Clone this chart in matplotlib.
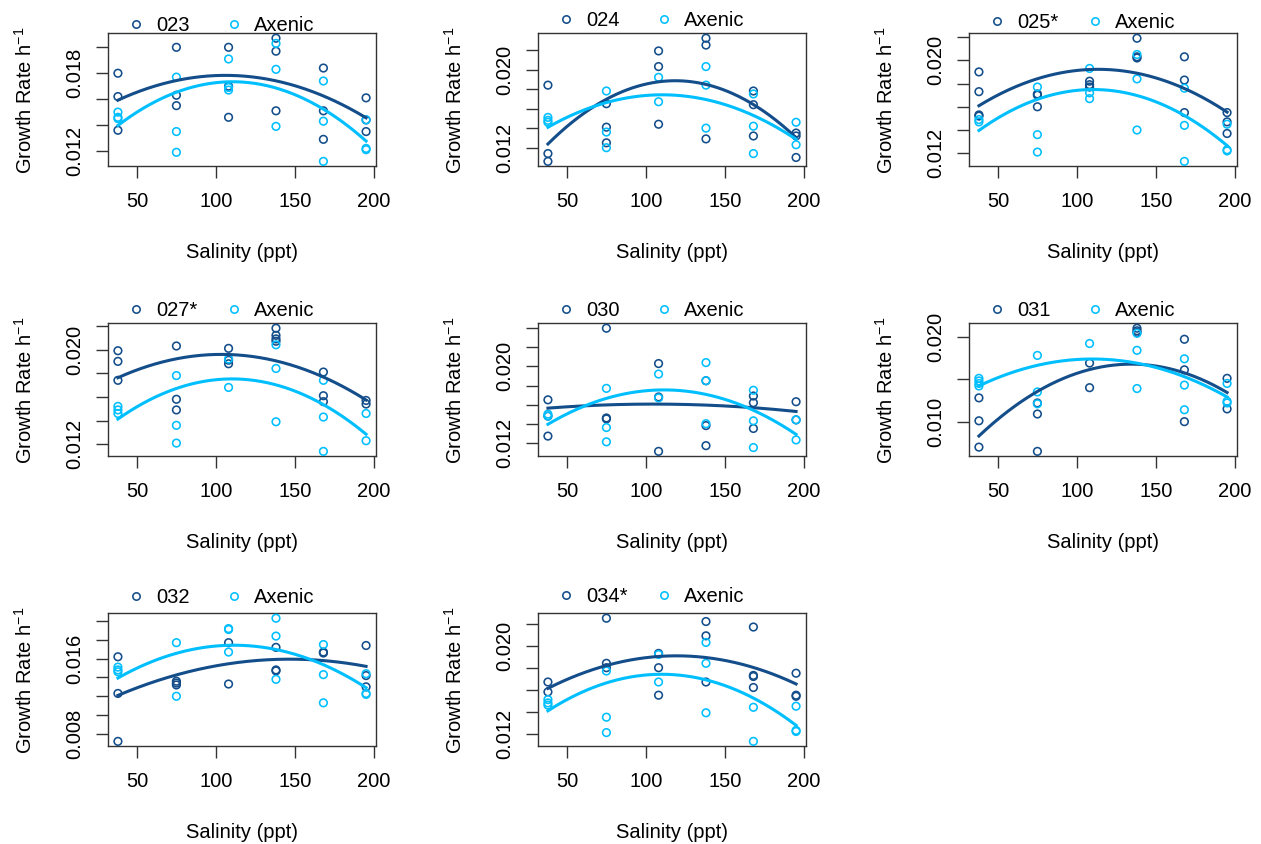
import numpy as np
import matplotlib
matplotlib.use("Agg")
import matplotlib.pyplot as plt
from matplotlib.lines import Line2D

plt.rcParams['font.family'] = ['Liberation Sans', 'DejaVu Sans']
plt.rcParams['font.size'] = 14.5
plt.rcParams['mathtext.default'] = 'regular'

# ---------------- data ----------------
salinity = [38, 75, 108, 138, 168, 195]
strain_labels = ['023', '024', '025*', '027*', '030', '031', '032', '034*']
axenic_label = 'Axenic'

# growth rates per salinity level (replicates)
strain_023 = [[0.0180, 0.0162, 0.0136], [0.0200, 0.0163, 0.0155], [0.0200, 0.0170, 0.0146],
              [0.0207, 0.0197, 0.0151], [0.0184, 0.0151, 0.0129], [0.0161, 0.0144, 0.0135]]
axenic_023 = [[0.0150, 0.0146, 0.0145], [0.0177, 0.0135, 0.0119], [0.0191, 0.0167, 0.0169],
              [0.0203, 0.0183, 0.0139], [0.0174, 0.0143, 0.0112], [0.0144, 0.0122, 0.0121]]
strain_024 = [[0.0184, 0.0114, 0.0106], [0.0165, 0.0141, 0.0125], [0.0219, 0.0203, 0.0144],
              [0.0232, 0.0225, 0.0129], [0.0178, 0.0164, 0.0132], [0.0135, 0.0132, 0.0110]]
axenic_024 = [[0.0151, 0.0148, 0.0146], [0.0178, 0.0136, 0.0120], [0.0192, 0.0167],
              [0.0203, 0.0184, 0.0140], [0.0175, 0.0142, 0.0114], [0.0146, 0.0123]]
strain_025 = [[0.0190, 0.0173, 0.0153, 0.0152], [0.0171, 0.0170, 0.0160], [0.0182, 0.0179, 0.0177],
              [0.0219, 0.0203, 0.0202], [0.0203, 0.0183, 0.0155], [0.0155, 0.0147, 0.0137]]
axenic_025 = [[0.0149, 0.0147], [0.0177, 0.0136, 0.0121], [0.0193, 0.0172, 0.0167],
              [0.0205, 0.0184, 0.0140], [0.0176, 0.0144, 0.0113], [0.0145, 0.0123, 0.0122]]
strain_027 = [[0.0199, 0.0190, 0.0174], [0.0203, 0.0158, 0.0149], [0.0201, 0.0191, 0.0188],
              [0.0218, 0.0212, 0.0209, 0.0207], [0.0181, 0.0161, 0.0156], [0.0157, 0.0154]]
axenic_027 = [[0.0152, 0.0149, 0.0146], [0.0178, 0.0136, 0.0121], [0.0192, 0.0168],
              [0.0204, 0.0184, 0.0139], [0.0174, 0.0143, 0.0114], [0.0146, 0.0123]]
strain_030 = [[0.0165, 0.0148, 0.0127], [0.0240, 0.0146, 0.0145], [0.0203, 0.0168, 0.0111],
              [0.0185, 0.0138, 0.0117], [0.0169, 0.0162, 0.0135], [0.0163, 0.0144]]
axenic_030 = [[0.0150, 0.0148], [0.0177, 0.0136, 0.0121], [0.0192, 0.0167],
              [0.0204, 0.0185, 0.0140], [0.0175, 0.0143, 0.0115], [0.0144, 0.0123]]
strain_031 = [[0.0128, 0.0101, 0.0070], [0.0122, 0.0109, 0.0065], [0.0169, 0.0140],
              [0.0210, 0.0207, 0.0205], [0.0197, 0.0161, 0.0100], [0.0151, 0.0115]]
axenic_031 = [[0.0151, 0.0148, 0.0145, 0.0142], [0.0178, 0.0135, 0.0121], [0.0192],
              [0.0204, 0.0184, 0.0139], [0.0174, 0.0143, 0.0114], [0.0145, 0.0124, 0.0122]]
strain_032 = [[0.0162, 0.0123, 0.0072], [0.0136, 0.0134, 0.0132], [0.0177, 0.0133],
              [0.0172, 0.0148, 0.0147], [0.0167, 0.0166], [0.0174, 0.0142, 0.0130]]
axenic_032 = [[0.0151, 0.0148, 0.0146], [0.0177, 0.0120], [0.0192, 0.0191, 0.0167],
              [0.0203, 0.0184, 0.0138], [0.0175, 0.0143, 0.0113], [0.0144, 0.0123, 0.0122]]
strain_034 = [[0.0167, 0.0158], [0.0225, 0.0184, 0.0180], [0.0193, 0.0180, 0.0155],
              [0.0222, 0.0209, 0.0167], [0.0217, 0.0173, 0.0172, 0.0162], [0.0175, 0.0155, 0.0154]]
axenic_034 = [[0.0151, 0.0148, 0.0146], [0.0177, 0.0135, 0.0121], [0.0192, 0.0167],
              [0.0203, 0.0184, 0.0139], [0.0144, 0.0113], [0.0145, 0.0123, 0.0122]]

# quadratic fit curves, read at a few salinities
fitx_strain_023, fity_strain_023 = [38, 112, 195], [0.01592, 0.01782, 0.01456]
fitx_axenic_023, fity_axenic_023 = [38, 115, 195], [0.01397, 0.01733, 0.01277]
fitx_strain_024, fity_strain_024 = [38, 120, 195], [0.01238, 0.01885, 0.01303]
fitx_axenic_024, fity_axenic_024 = [38, 112, 195], [0.01409, 0.01741, 0.01286]
fitx_strain_025, fity_strain_025 = [38, 120, 195], [0.01609, 0.01920, 0.01554]
fitx_axenic_025, fity_axenic_025 = [38, 115, 195], [0.01396, 0.01747, 0.01266]
fitx_strain_027, fity_strain_027 = [38, 110, 195], [0.01762, 0.01957, 0.01574]
fitx_axenic_027, fity_axenic_027 = [38, 118, 195], [0.01413, 0.01748, 0.01285]
fitx_strain_030, fity_strain_030 = [38, 110, 195], [0.01563, 0.01605, 0.01528]
fitx_axenic_030, fity_axenic_030 = [38, 115, 195], [0.01394, 0.01753, 0.01288]
fitx_strain_031, fity_strain_031 = [38, 135, 195], [0.00831, 0.01677, 0.01343]
fitx_axenic_031, fity_axenic_031 = [38, 115, 195], [0.01421, 0.01736, 0.01291]
fitx_strain_032, fity_strain_032 = [38, 140, 195], [0.01209, 0.01593, 0.01518]
fitx_axenic_032, fity_axenic_032 = [38, 115, 195], [0.01394, 0.01742, 0.01291]
fitx_strain_034, fity_strain_034 = [38, 120, 195], [0.01612, 0.01908, 0.01652]
fitx_axenic_034, fity_axenic_034 = [38, 112, 195], [0.01408, 0.01740, 0.01276]

# y tick values and which of them carry a label
yticks_023 = [0.012, 0.014, 0.016, 0.018, 0.020]
ylabels_023 = ['0.012', '', '', '0.018', '']
yticks_024 = [0.012, 0.014, 0.016, 0.018, 0.020, 0.022]
ylabels_024 = ['0.012', '', '', '', '0.020', '']
yticks_030 = [0.012, 0.014, 0.016, 0.018, 0.020, 0.022, 0.024]
ylabels_030 = ['0.012', '', '', '', '0.020', '', '']
yticks_031 = [0.010, 0.015, 0.020]
ylabels_031 = ['0.010', '', '0.020']
yticks_032 = [0.008, 0.010, 0.012, 0.014, 0.016, 0.018, 0.020]
ylabels_032 = ['0.008', '', '', '', '0.016', '', '']
xticks = [50, 100, 150, 200]
xlabels = ['50', '100', '150', '200']

# ---------------- styling / layout ----------------
DARK = '#134d8a'
LIGHT = '#00bfff'
BOX = '#333333'
W, H = 1261, 844
col_left = [108, 538, 969]
row_top = [33.3, 323.3, 613.3]
box_w, box_h = 268, 133
legend_raise_px = [8, 13, 11, 12.5, 13, 12.5, 16, 17]

panels = [
    (strain_labels[0], strain_023, axenic_023, fitx_strain_023, fity_strain_023, fitx_axenic_023, fity_axenic_023, yticks_023, ylabels_023),
    (strain_labels[1], strain_024, axenic_024, fitx_strain_024, fity_strain_024, fitx_axenic_024, fity_axenic_024, yticks_024, ylabels_024),
    (strain_labels[2], strain_025, axenic_025, fitx_strain_025, fity_strain_025, fitx_axenic_025, fity_axenic_025, yticks_024, ylabels_024),
    (strain_labels[3], strain_027, axenic_027, fitx_strain_027, fity_strain_027, fitx_axenic_027, fity_axenic_027, yticks_024, ylabels_024),
    (strain_labels[4], strain_030, axenic_030, fitx_strain_030, fity_strain_030, fitx_axenic_030, fity_axenic_030, yticks_030, ylabels_030),
    (strain_labels[5], strain_031, axenic_031, fitx_strain_031, fity_strain_031, fitx_axenic_031, fity_axenic_031, yticks_031, ylabels_031),
    (strain_labels[6], strain_032, axenic_032, fitx_strain_032, fity_strain_032, fitx_axenic_032, fity_axenic_032, yticks_032, ylabels_032),
    (strain_labels[7], strain_034, axenic_034, fitx_strain_034, fity_strain_034, fitx_axenic_034, fity_axenic_034, yticks_024, ylabels_024),
]


def flatten(groups):
    xs, ys = [], []
    for s, reps in zip(salinity, groups):
        for v in reps:
            xs.append(s)
            ys.append(v)
    return np.array(xs, float), np.array(ys, float)


fig = plt.figure(figsize=(W / 100, H / 100), dpi=100)

for i, (lab, sdat, adat, fxs, fys, fxa, fya, yt, yl) in enumerate(panels):
    r, c = divmod(i, 3)
    ax = fig.add_axes([col_left[c] / W, 1 - (row_top[r] + box_h) / H, box_w / W, box_h / H])

    sx, sy = flatten(sdat)
    axx, axy = flatten(adat)
    ax.scatter(sx, sy, s=30, facecolors='none', edgecolors=DARK, linewidths=1.15, zorder=3)
    ax.scatter(axx, axy, s=30, facecolors='none', edgecolors=LIGHT, linewidths=1.15, zorder=3)

    xs = np.linspace(min(salinity), max(salinity), 200)
    cs = np.polyfit(fxs, fys, 2)
    ca = np.polyfit(fxa, fya, 2)
    ax.plot(xs, np.polyval(cs, xs), color=DARK, lw=2.2, zorder=4)
    ax.plot(xs, np.polyval(ca, xs), color=LIGHT, lw=2.2, zorder=4)

    # R-style ranges (data range extended by 4%)
    allx = np.concatenate([sx, axx])
    ally = np.concatenate([sy, axy])
    dx = (allx.max() - allx.min()) * 0.04
    dy = (ally.max() - ally.min()) * 0.04
    ax.set_xlim(allx.min() - dx, allx.max() + dx)
    ax.set_ylim(ally.min() - dy, ally.max() + dy)

    ax.set_xticks(xticks)
    ax.set_xticklabels(xlabels)
    ax.set_yticks(yt)
    ax.set_yticklabels(yl)
    ax.tick_params(axis='both', direction='out', length=8.3, width=1.0, color=BOX,
                   labelsize=14.5, labelcolor='black')
    ax.tick_params(axis='x', pad=10)
    ax.tick_params(axis='y', pad=9, labelrotation=90)
    for t in ax.get_yticklabels():
        t.set_va('center')
    for sp in ax.spines.values():
        sp.set_color(BOX)
        sp.set_linewidth(1.0)

    ax.set_xlabel('Salinity (ppt)', fontsize=14.5, va='center')
    ax.xaxis.set_label_coords(0.5, -86 / box_h)
    ax.set_ylabel('Growth Rate h$^{-1}$', fontsize=14.5, va='center')
    ax.yaxis.set_label_coords(-83 / box_w, 0.5)

    ly = 1 + legend_raise_px[i] / box_h
    h1 = Line2D([], [], ls='none', marker='o', markersize=5.3, mfc='none', mec=DARK, mew=1.15)
    h2 = Line2D([], [], ls='none', marker='o', markersize=5.3, mfc='none', mec=LIGHT, mew=1.15)
    common = dict(loc='center left', frameon=False, borderpad=0, borderaxespad=0,
                  handlelength=1.0, handletextpad=0.5, fontsize=14.5)
    leg1 = ax.legend([h1], [lab], bbox_to_anchor=((28 - 10) / box_w, ly), **common)
    ax.add_artist(leg1)
    ax.legend([h2], [axenic_label], bbox_to_anchor=((126 - 10) / box_w, ly), **common)

fig.savefig('out.png', dpi=100)
